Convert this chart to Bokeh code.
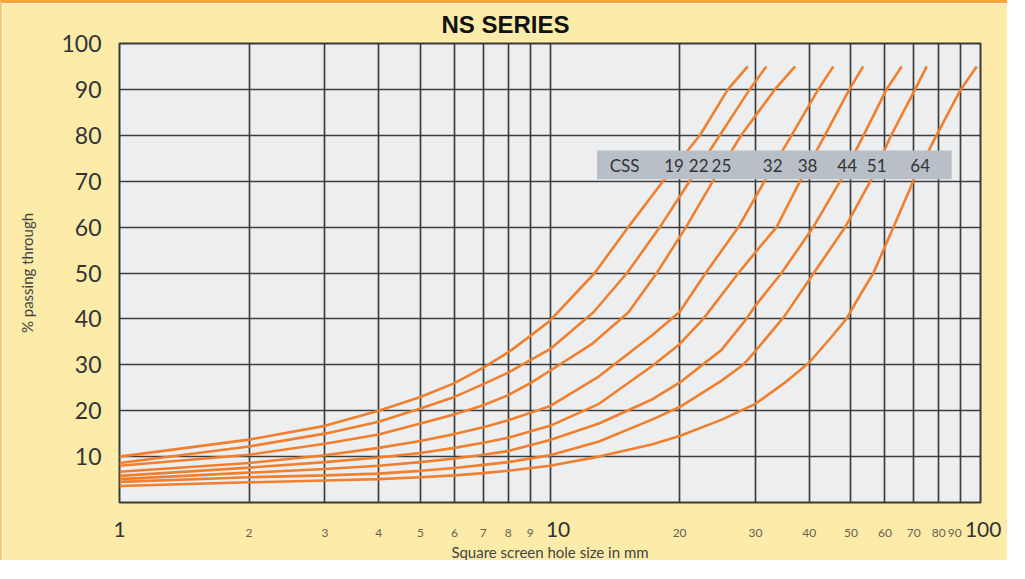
import numpy as np
from bokeh.plotting import figure
from bokeh.models import FixedTicker, Label, BoxAnnotation, Range1d, LogAxis
from bokeh.embed import file_html
from bokeh.resources import INLINE

# ---------------- data ----------------
css_names = ["19", "22", "25", "32", "38", "44", "51", "64"]

x19 = [1, 2, 3, 4, 5, 6, 7, 8, 9, 10, 12.7, 15.2, 18.3, 22.3, 25.9, 28.8]
y19 = [10, 13.7, 16.7, 20, 23, 26, 29.4, 32.7, 36.3, 39.6, 50, 60, 70, 80, 90, 95]

x22 = [1, 2, 3, 4, 5, 6, 7, 8, 9, 10, 12.6, 15.1, 18, 21.1, 24.8, 29.1, 31.8]
y22 = [8.6, 12.2, 15, 17.6, 20.5, 23, 25.8, 28.3, 31, 33.4, 41.4, 50, 60, 70, 80, 90, 95]

x25 = [1, 2, 3, 4, 5, 6, 7, 8, 9, 10, 12.5, 15.2, 17.7, 20.7, 23.9, 27.8, 33.3, 37.1]
y25 = [8.0, 10.4, 12.8, 14.8, 17.2, 19.2, 21.2, 23.4, 26, 28.7, 34.5, 41.4, 50, 60, 70, 80, 90, 95]

x32 = [1, 2, 3, 4, 5, 6, 7, 8, 10, 13, 17.3, 20, 23, 27.4, 31.5, 36.4, 42, 45.5]
y32 = [6.7, 8.6, 10.3, 11.9, 13.4, 14.9, 16.4, 17.9, 21, 27.5, 36.5, 41.5, 50, 60, 70, 80, 90, 95]

x38 = [1, 2, 3, 4, 5, 6, 7, 8, 10, 13, 17.3, 20, 22.7, 27.4, 30, 33.6, 38.1, 43.5, 49.6, 53.4]
y38 = [5.8, 7.6, 8.8, 9.8, 10.8, 11.9, 13, 14.1, 16.7, 21.5, 29.8, 34.5, 40, 50, 54.5, 60, 70, 80, 90, 95]

x44 = [1, 2, 3, 4, 5, 6, 7, 8, 10, 13, 17.3, 20, 25, 28.6, 30, 34.5, 40.9, 47.2, 53.5, 60.5, 65.6]
y44 = [5.1, 6.5, 7.3, 8.0, 8.8, 9.6, 10.4, 11.2, 13.6, 17.2, 22.5, 26.1, 33.2, 40, 42.9, 50, 60, 70, 80, 90, 95]

x51 = [1, 2, 3, 4, 5, 6, 7, 8, 10, 13, 17.3, 20, 25, 28.1, 30, 35, 41, 48.5, 55.5, 62, 70.5, 75]
y51 = [4.5, 5.5, 5.9, 6.3, 6.9, 7.5, 8.2, 8.8, 10.3, 13.3, 18.1, 20.8, 26.5, 30, 33, 40.5, 50, 60, 70, 80, 90, 95]

x64 = [1, 2, 3, 4, 5, 6, 7, 8, 10, 13, 17.3, 20, 25, 30, 35, 40, 45, 48.8, 52, 56.4, 62.8, 69.8, 79, 90, 98]
y64 = [3.6, 4.4, 4.8, 5.1, 5.5, 5.9, 6.4, 6.9, 8.0, 10, 12.7, 14.5, 18, 21.5, 26, 30.5, 36, 40, 44.5, 50, 60, 70, 80, 90, 95]

grid_x = [1, 2, 3, 4, 5, 6, 7, 8, 9, 10, 20, 30, 40, 50, 60, 70, 80, 90, 100]
minor_x_ticks = [2, 3, 4, 5, 6, 7, 8, 9, 20, 30, 40, 50, 60, 70, 80, 90]
decade_x_ticks = [1, 10, 100]
y_ticks = [10, 20, 30, 40, 50, 60, 70, 80, 90, 100]

curves_x = [x19, x22, x25, x32, x38, x44, x51, x64]
curves_y = [y19, y22, y25, y32, y38, y44, y51, y64]

# ---------------- styling ----------------
PAGE_BG = "#FDEBAA"
FRAME_BG = "#EDEEEF"
GRID = "#3d3d3d"
ORANGE = "#F07F2E"
TXT = "#333333"
NBSP = "\u00a0"

p = figure(width=1007, height=560, x_axis_type="log",
           x_range=Range1d(1, 100), y_range=Range1d(0, 100),
           output_backend="svg", toolbar_location=None,
           min_border_left=117, min_border_right=29,
           min_border_top=40, min_border_bottom=61)
p.styles = {"border-top": "3px solid #F5A53A", "border-left": "2px solid #F6C870"}

p.background_fill_color = FRAME_BG
p.border_fill_color = PAGE_BG
p.outline_line_color = "#3a3a3a"
p.outline_line_width = 2

# title (page-centred rather than frame-centred)
p.title.text = "NS SERIES"
p.title.align = "left"
p.title.offset = 322
p.title.text_font = "Liberation Sans"
p.title.text_font_style = "bold"
p.title.text_font_size = "24px"
p.title.text_color = "#111111"
p.title.standoff = 11

# grids
p.xgrid.ticker = FixedTicker(ticks=grid_x)
p.ygrid.ticker = FixedTicker(ticks=y_ticks)
for g in (p.xgrid, p.ygrid):
    g.grid_line_color = GRID
    g.grid_line_width = 1.7
    g.grid_line_alpha = 1.0

# y axis
p.yaxis.ticker = FixedTicker(ticks=y_ticks)
p.yaxis.axis_line_color = None
p.yaxis.major_tick_line_color = None
p.yaxis.major_tick_out = 0
p.yaxis.minor_tick_line_color = None
p.yaxis.major_label_text_font = "Lato"
p.yaxis.major_label_text_font_size = "23px"
p.yaxis.major_label_text_color = TXT
p.yaxis.major_label_standoff = 18
p.yaxis.axis_label = "% passing through"
p.yaxis.axis_label_text_font = "Lato"
p.yaxis.axis_label_text_font_style = "normal"
p.yaxis.axis_label_text_font_size = "15px"
p.yaxis.axis_label_text_color = "#444444"
p.yaxis.axis_label_standoff = 22

# x axis 1: small intermediate labels (closest to the frame)
xa = p.xaxis[0]
xa.ticker = FixedTicker(ticks=minor_x_ticks)
xa.axis_line_color = None
xa.major_tick_line_color = None
xa.major_tick_out = 0
xa.minor_tick_line_color = None
xa.major_label_text_font = "Lato"
xa.major_label_text_font_size = "12px"
xa.major_label_text_color = "#6b5f50"
xa.major_label_standoff = 22
xa.major_label_overrides = {90: "90" + NBSP * 4}

# x axis 2: large decade labels, pulled up onto the same line, carries the title
xb = LogAxis(ticker=FixedTicker(ticks=decade_x_ticks))
xb.axis_line_color = None
xb.major_tick_line_color = None
xb.major_tick_out = 0
xb.minor_tick_line_color = None
xb.major_label_text_font = "Lato"
xb.major_label_text_font_size = "21px"
xb.major_label_text_color = TXT
xb.major_label_standoff = -27
xb.major_label_overrides = {1: "1", 10: NBSP * 3 + "10", 100: NBSP + "100"}
xb.axis_label = "Square screen hole size in mm"
xb.axis_label_text_font = "Lato"
xb.axis_label_text_font_style = "normal"
xb.axis_label_text_font_size = "15px"
xb.axis_label_text_color = "#444444"
xb.axis_label_standoff = -1
p.add_layout(xb, "below")

# curves
for xs, ys in zip(curves_x, curves_y):
    p.line(xs, ys, line_color=ORANGE, line_width=2.6)

# CSS legend strip
p.add_layout(BoxAnnotation(left=12.86, right=85.7, bottom=70.4, top=76.7,
                           fill_color="#B9BFC7", fill_alpha=1.0,
                           line_color=None))
band_y = 73.5
p.add_layout(Label(x=14.9, y=band_y, text="CSS", text_align="center",
                   text_baseline="middle", text_font="Lato",
                   text_font_size="17px", text_color=TXT))
for name, xs, ys in zip(css_names, curves_x, curves_y):
    xpos = 10 ** np.interp(73.0, ys, np.log10(xs))
    p.add_layout(Label(x=xpos, y=band_y, text=name, text_align="center",
                       text_baseline="middle", text_font="Lato",
                       text_font_size="17px", text_color=TXT))

open("out.html", "w").write(file_html(p, INLINE))
